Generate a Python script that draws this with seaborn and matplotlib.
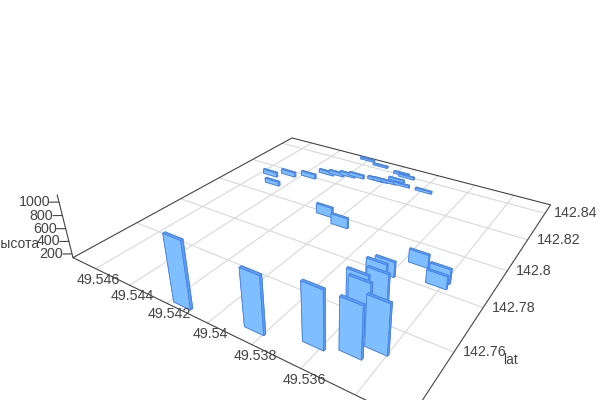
import numpy as np
import matplotlib
matplotlib.use("Agg")
import matplotlib.pyplot as plt
import seaborn as sns
from mpl_toolkits.mplot3d import proj3d

# values
lon = [49.54142, 49.53837, 49.53626, 49.53501, 49.53439, 49.53533, 49.53573, 49.53536, 49.53601,
       49.53621, 49.53536, 49.53422, 49.53419, 49.54073, 49.53963, 49.54541, 49.54469, 49.54462,
       49.54361, 49.54302, 49.54252, 49.54197, 49.54152, 49.54049, 49.54022, 49.53980, 49.53956,
       49.53909, 49.53788, 49.54206, 49.54108, 49.53966, 49.53928]
lat = [142.7370, 142.7397, 142.7433, 142.7456, 142.7501, 142.7533, 142.7573, 142.7629, 142.7711,
       142.7791, 142.7885, 142.7846, 142.7819, 142.7980, 142.7947, 142.8124, 142.8068, 142.8162,
       142.8190, 142.8249, 142.8263, 142.8278, 142.8290, 142.8303, 142.8306, 142.8311, 142.8343,
       142.8316, 142.8316, 142.8444, 142.8422, 142.8399, 142.8386]
height = [1120, 965, 965, 870, 850, 885, 820, 735, 570,
          370, 342, 365, 335, 300, 305, 214, 212, 214,
          214, 195, 195, 195, 195, 185, 185, 176, 176,
          175, 175, 168, 166, 176, 176]

lon_ticks = [49.546, 49.544, 49.542, 49.54, 49.538, 49.536]
lon_grid = lon_ticks + [49.534]
lat_ticks = [142.76, 142.78, 142.8, 142.82, 142.84]
z_ticks = [200, 400, 600, 800, 1000]

lon_hi, lon_lo = 49.54743, 49.53223
lat_lo, lat_hi = 142.73559, 142.84706
z_lo, z_hi = 139, 1106
bar_dx, bar_dy = 0.00085, 0.0008

sns.set_style("white")
plt.rcParams["font.family"] = ["Liberation Sans", "DejaVu Sans"]
grid_c = "#d8d8d8"
line_c = "#444444"

fig = plt.figure(figsize=(6, 4), dpi=100)
ax = fig.add_axes([0, 0, 1, 1], projection="3d")
ax.computed_zorder = False
ax.set_axis_off()

# floor grid
for t in lon_grid:
    ax.plot([t, t], [lat_lo, lat_hi], [z_lo, z_lo], color=grid_c, lw=0.8, zorder=1, clip_on=False)
for t in lat_ticks:
    ax.plot([lon_lo, lon_hi], [t, t], [z_lo, z_lo], color=grid_c, lw=0.8, zorder=1, clip_on=False)

# box edges and z axis
ax.plot([lon_hi, lon_lo, lon_lo, lon_hi, lon_hi], [lat_lo, lat_lo, lat_hi, lat_hi, lat_lo], [z_lo] * 5,
        color=line_c, lw=0.8, zorder=2, clip_on=False)
ax.plot([lon_hi, lon_hi], [lat_lo, lat_lo], [z_lo, z_hi], color=line_c, lw=0.8, zorder=2, clip_on=False)
for t in z_ticks:
    ax.plot([lon_hi, lon_hi + 0.0003], [lat_lo, lat_lo - 0.0015], [t, t], color=line_c, lw=0.8, zorder=2,
            clip_on=False)

# bars, far ones first
order = sorted(range(len(lon)), key=lambda i: 0.48 * (lon_hi - lon[i]) / (lon_hi - lon_lo)
               - 0.73 * (lat[i] - lat_lo) / (lat_hi - lat_lo))
face_c = "#7fbfff"
side_c = "#5b9cf5"
for n, i in enumerate(order):
    bar = ax.bar3d(lon[i] - bar_dx / 2, lat[i], z_lo, bar_dx, bar_dy, height[i] - z_lo,
                   color=[face_c, side_c, face_c, face_c, side_c, side_c],
                   edgecolor="#4a86e8", linewidth=0.6, shade=False, zorder=10 + n)
    bar.set_clip_on(False)

ax.set_xlim(lon_hi, lon_lo)
ax.set_ylim(lat_lo, lat_hi)
ax.set_zlim(z_lo, z_hi)
ax.view_init(elev=28.565, azim=-57.05, roll=0)
ax.set_proj_type("persp", focal_length=0.2224)
ax.set_box_aspect((1, 0.997, 0.1914))

# place the axes so the projected box lands where it should
s, cx, cy = 2641.22, 329.72, 200.36
vx0, vx1 = ax.viewLim.intervalx
vy0, vy1 = ax.viewLim.intervaly
ax.set_position([(cx + s * vx0) / 600, (400 - cy + s * vy0) / 400, s * (vx1 - vx0) / 600, s * (vy1 - vy0) / 400])

M = ax.get_proj()


def label(x, y, z, text, off, ha):
    px, py, _ = proj3d.proj_transform(x, y, z, M)
    ax.annotate(text, xy=(px, py), xytext=off, textcoords="offset pixels", ha=ha, va="center",
                fontsize=10.3, color=line_c, annotation_clip=False, zorder=100)


for t in lon_ticks:
    label(t, lat_lo, z_lo, f"{t:g}", (3, -11), "center")
for t in lat_ticks:
    label(lon_lo, t, z_lo, f"{t:g}", (9, 0), "left")
for t in z_ticks:
    label(lon_hi, lat_lo, t, f"{t:g}", (-9, 0), "right")

fig.text(39 / 600, 1 - 244 / 400, "высота", ha="right", va="center", fontsize=10, color=line_c)
fig.text(511 / 600, 1 - 360 / 400, "lat", ha="center", va="center", fontsize=10, color=line_c)

fig.savefig("out.png", dpi=100)
